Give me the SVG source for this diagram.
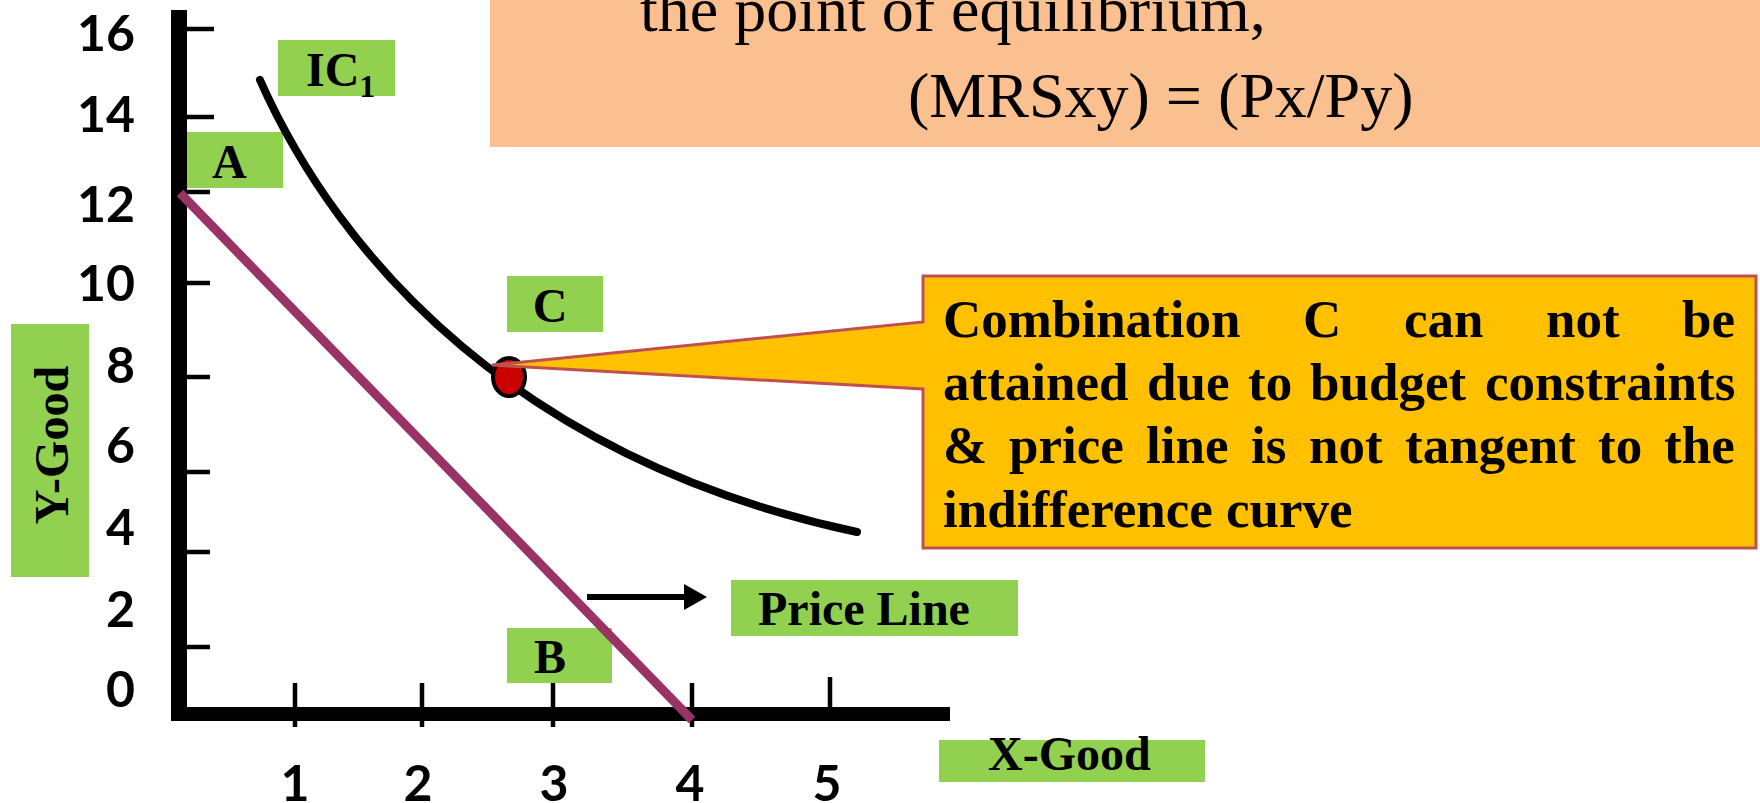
<svg xmlns="http://www.w3.org/2000/svg" width="1760" height="803" viewBox="0 0 1760 803">
<defs>
<style>
.lbl{fill:#92D050}
.bs{font-family:"Liberation Serif","Times New Roman",serif;font-weight:bold;font-size:48px;fill:#000}
.num{font-family:Lato,"Open Sans","Liberation Sans",sans-serif;font-weight:bold;font-size:50px;fill:#000}
.tick{stroke:#000;stroke-width:4.5}
.ct{font-family:"Liberation Serif","Times New Roman",serif;font-weight:bold;font-size:53px;fill:#000}
.tt{font-family:"Liberation Serif","Times New Roman",serif;font-size:64px;fill:#000}
</style>
<marker id="arrow" markerUnits="userSpaceOnUse" markerWidth="24" markerHeight="26" viewBox="0 0 24 26" refX="2" refY="13" orient="auto">
<path d="M0,0 L23,13 L0,26 Z" fill="#000"/>
</marker>
</defs>
<rect width="1760" height="803" fill="#fff"/>
<g id="title-box">
<rect x="490" y="-5" width="1275" height="152" fill="#FAC090"/>
<text class="tt" x="640" y="31" font-size="63">the point of equilibrium,</text>
<text class="tt" x="908" y="117">(MRSxy) = (Px/Py)</text>
</g>
<g id="y-good-label">
<rect class="lbl" x="11" y="324" width="78" height="253"/>
<text class="bs" font-size="47" text-anchor="middle" transform="translate(68,445) rotate(-90)">Y-Good</text>
</g>
<g id="axes">
<rect x="171" y="10" width="16" height="711" fill="#000"/>
<rect x="171" y="707" width="779" height="14" fill="#000"/>
<line class="tick" x1="187" y1="29" x2="214" y2="29"/>
<line class="tick" x1="187" y1="117" x2="214" y2="117"/>
<line class="tick" x1="187" y1="192" x2="210" y2="192"/>
<line class="tick" x1="187" y1="283" x2="210" y2="283"/>
<line class="tick" x1="187" y1="377" x2="210" y2="377"/>
<line class="tick" x1="187" y1="472" x2="210" y2="472"/>
<line class="tick" x1="187" y1="552" x2="210" y2="552"/>
<line class="tick" x1="187" y1="647" x2="210" y2="647"/>
<line class="tick" x1="295" y1="683" x2="295" y2="727"/>
<line class="tick" x1="422" y1="683" x2="422" y2="727"/>
<line class="tick" x1="553" y1="683" x2="553" y2="727"/>
<line class="tick" x1="692" y1="683" x2="692" y2="727"/>
<line class="tick" x1="830" y1="677" x2="830" y2="707"/>
<g text-anchor="end">
<text class="num" x="135" y="51">16</text>
<text class="num" x="135" y="132">14</text>
<text class="num" x="135" y="222">12</text>
<text class="num" x="135" y="301">10</text>
<text class="num" x="135" y="383">8</text>
<text class="num" x="135" y="463">6</text>
<text class="num" x="135" y="545">4</text>
<text class="num" x="135" y="627">2</text>
<text class="num" x="135" y="707">0</text>
</g>
<g text-anchor="middle">
<text class="num" x="295" y="801">1</text>
<text class="num" x="418" y="801">2</text>
<text class="num" x="554" y="801">3</text>
<text class="num" x="690" y="801">4</text>
<text class="num" x="827" y="801">5</text>
</g>
</g>
<g id="label-a">
<rect class="lbl" x="187" y="132" width="96" height="56"/>
<text class="bs" x="212" y="178">A</text>
</g>
<g id="label-ic1">
<rect class="lbl" x="278" y="40" width="117" height="56"/>
<text class="bs" x="306" y="86">IC<tspan font-size="32" dy="11">1</tspan></text>
</g>
<g id="label-c">
<rect class="lbl" x="507" y="276" width="96" height="56"/>
<text class="bs" x="550" y="322" text-anchor="middle">C</text>
</g>
<g id="label-b">
<rect class="lbl" x="507" y="628" width="105" height="55"/>
<text class="bs" x="534" y="673">B</text>
</g>
<g id="label-price-line">
<rect class="lbl" x="731" y="580" width="287" height="56"/>
<text class="bs" x="758" y="625">Price Line</text>
</g>
<g id="label-x-good">
<rect class="lbl" x="939" y="740" width="266" height="42"/>
<text class="bs" x="988" y="770">X-Good</text>
</g>
<g id="indifference-curve">
<path d="M260,80 C340,260 520,460 857,532" fill="none" stroke="#000" stroke-width="8" stroke-linecap="round"/>
</g>
<g id="price-line">
<line x1="180" y1="193" x2="692" y2="720" stroke="#993366" stroke-width="9"/>
</g>
<g id="point-c">
<ellipse cx="509" cy="377" rx="16" ry="19" fill="#CC0000" stroke="#000" stroke-width="4"/>
</g>
<g id="callout">
<path d="M923,276 H1756 V548 H923 V389 L492,365 L923,322 Z" fill="#FFC000" stroke="#C0504D" stroke-width="3"/>
<text class="ct" y="337"><tspan x="943">Combination</tspan><tspan x="1303">C</tspan><tspan x="1404">can</tspan><tspan x="1546">not</tspan><tspan x="1682">be</tspan></text>
<text class="ct" y="400"><tspan x="943">attained</tspan><tspan x="1147">due</tspan><tspan x="1248">to</tspan><tspan x="1310">budget</tspan><tspan x="1485">constraints</tspan></text>
<text class="ct" y="463"><tspan x="943">&amp;</tspan><tspan x="1009">price</tspan><tspan x="1146">line</tspan><tspan x="1251">is</tspan><tspan x="1309">not</tspan><tspan x="1405">tangent</tspan><tspan x="1598">to</tspan><tspan x="1664">the</tspan></text>
<text class="ct" x="943" y="527">indifference curve</text>
</g>
<g id="connectors">
<line x1="587" y1="597" x2="686" y2="597" stroke="#000" stroke-width="6" marker-end="url(#arrow)"/>
</g>
</svg>
